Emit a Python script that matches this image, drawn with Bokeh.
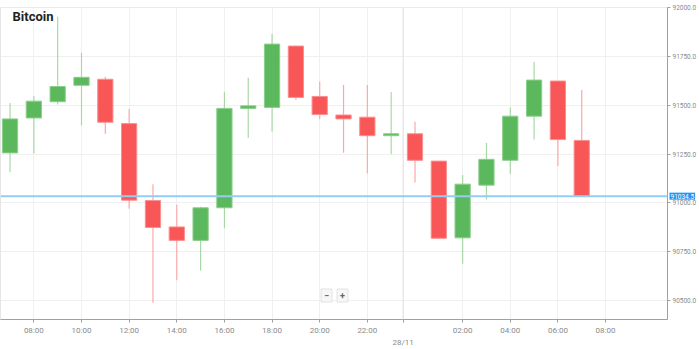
from bokeh.plotting import figure
from bokeh.models import (ColumnDataSource, FixedTicker, NumeralTickFormatter,
                          Span, Label, Range1d, LinearAxis)
from bokeh.embed import file_html
from bokeh.resources import INLINE

# ---- data (hourly candles, 27/11 07:00 -> 28/11 07:00) ----
hours = [7, 8, 9, 10, 11, 12, 13, 14, 15, 16, 17, 18, 19, 20, 21, 22, 23,
         24, 25, 26, 27, 28, 29, 30, 31]
opens = [91256, 91435, 91518, 91602, 91633, 91406, 91012, 90877, 90808, 90975,
         91484, 91489, 91803, 91545, 91450, 91439, 91344, 91354, 91214, 90821,
         91091, 91218, 91444, 91624, 91320]
highs = [91511, 91548, 91953, 91768, 91646, 91481, 91096, 90991, 90980, 91568,
         91641, 91865, 91805, 91621, 91604, 91604, 91568, 91416, 91216, 91143,
         91307, 91489, 91722, 91626, 91578]
lows = [91157, 91253, 91504, 91396, 91354, 90970, 90489, 90604, 90654, 90870,
        91332, 91366, 91528, 91430, 91257, 91150, 91250, 91105, 90817, 90688,
        91017, 91148, 91325, 91189, 91032]
closes = [91430, 91521, 91596, 91643, 91413, 91014, 90874, 90808, 90975, 91484,
          91497, 91813, 91540, 91452, 91430, 91344, 91354, 91218, 90819, 91096,
          91223, 91444, 91629, 91324, 91034.5]

last_price = 91034.5
title_text = "Bitcoin"

x_tick_hours = [8, 10, 12, 14, 16, 18, 20, 22, 26, 28, 30, 32]
x_tick_labels = ["08:00", "10:00", "12:00", "14:00", "16:00", "18:00", "20:00",
                 "22:00", "02:00", "04:00", "06:00", "08:00"]
day_tick = 23.5
day_label = "28/11"
y_ticks = [90500, 90750, 91000, 91250, 91500, 91750, 92000]

# ---- styling ----
UP_FILL, UP_LINE, UP_WICK = "#5cb85c", "#8ccf8c", "#a9d8a6"
DN_FILL, DN_LINE, DN_WICK = "#f95757", "#fb8f8f", "#f9a9a9"
FONT = "Roboto"
X0, X1, Y0, Y1 = 6.6, 34.6, 90403, 92000.5

up = [c >= o for o, c in zip(opens, closes)]
src = ColumnDataSource(dict(
    x=hours,
    top=[max(o, c) for o, c in zip(opens, closes)],
    bottom=[min(o, c) for o, c in zip(opens, closes)],
    high=highs, low=lows,
    fill=[UP_FILL if u else DN_FILL for u in up],
    line=[UP_LINE if u else DN_LINE for u in up],
    wick=[UP_WICK if u else DN_WICK for u in up],
))

p = figure(width=699, height=349, output_backend="svg", toolbar_location=None,
           x_range=Range1d(X0, X1), y_range=Range1d(Y0, Y1),
           y_axis_location="right",
           min_border_left=0, min_border_right=32, min_border_top=0,
           min_border_bottom=26)
p.outline_line_color = "#e6e6e6"
p.background_fill_color = "white"
p.border_fill_color = "white"

# grid
p.xgrid.grid_line_color = "#f0f0f0"
p.ygrid.grid_line_color = "#f0f0f0"

# axes
xa = p.xaxis[0]
xa.ticker = FixedTicker(ticks=x_tick_hours + [day_tick])
overrides = {t: l for t, l in zip(x_tick_hours, x_tick_labels)}
overrides[day_tick] = ""
xa.major_label_overrides = overrides
ya = p.yaxis[0]
ya.ticker = FixedTicker(ticks=y_ticks)
ya.formatter = NumeralTickFormatter(format="0.0")
for ax in (xa, ya):
    ax.axis_line_color = "#a0a0a0"
    ax.major_tick_line_color = "#a0a0a0"
    ax.major_tick_out = 3
    ax.major_tick_in = 0
    ax.minor_tick_line_color = None
    ax.major_label_text_color = "#8a8a8a"
    ax.major_label_text_font = FONT
    ax.major_label_standoff = 3
xa.major_label_text_font_size = "8px"
ya.major_label_text_font_size = "6.5px"
ya.major_label_standoff = 2

# second row of the time axis: the date
day_axis = LinearAxis(ticker=FixedTicker(ticks=[day_tick]),
                      major_label_overrides={day_tick: day_label},
                      axis_line_color=None, major_tick_line_color=None,
                      major_tick_out=0, major_tick_in=0,
                      minor_tick_line_color=None, major_label_standoff=0,
                      major_label_text_font=FONT, major_label_text_font_size="8px",
                      major_label_text_color="#8a8a8a")
p.add_layout(day_axis, "below")

# darker day-boundary line
p.add_layout(Span(location=day_tick, dimension="height", line_color="#e2e2e2",
                  line_width=1))

# candles
p.segment(x0="x", y0="low", x1="x", y1="high", source=src, line_color="wick",
          line_width=1.2)
p.vbar(x="x", width=0.64, top="top", bottom="bottom", source=src,
       fill_color="fill", line_color="line", line_width=1)

# last price line and tag (tag lives in a side panel so it is not clipped)
p.add_layout(Span(location=last_price, dimension="width", line_color="#93cdf5",
                  line_width=2))
p.add_layout(Label(x=X1, y=last_price, x_offset=2, text=f"{last_price:.1f}",
                   text_font=FONT, text_font_size="6.5px", text_color="white",
                   text_baseline="middle", background_fill_color="#2196f3",
                   padding=1), "above")

# title
p.add_layout(Label(x=X0, y=91956, x_offset=12, text=title_text,
                   text_font=FONT, text_font_size="13px", text_font_style="bold",
                   text_color="#222222", text_baseline="middle"))

# zoom buttons
for dx, sym in ((0, "\u2212"), (16, "+")):
    p.add_layout(Label(x=X0, y=Y0, x_offset=326 + dx, y_offset=24, text=sym,
                       text_font=FONT, text_font_size="9px",
                       text_font_style="bold", text_color="#666666",
                       text_align="center", text_baseline="middle",
                       background_fill_color="#f7f7f7",
                       border_line_color="#e2e2e2", padding=3))

open("out.html", "w").write(file_html(p, INLINE))
